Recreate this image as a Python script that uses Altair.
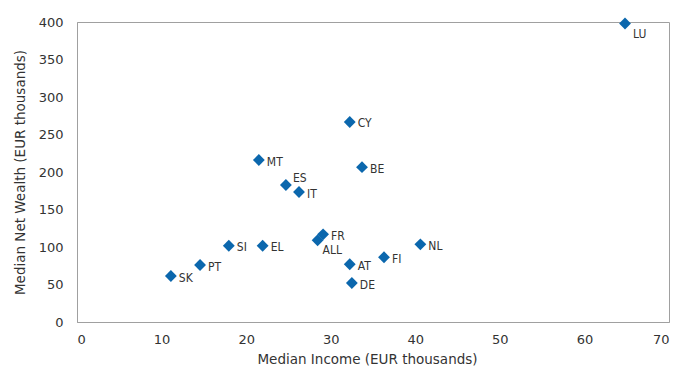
import altair as alt
import pandas as pd

countries = ["LU", "CY", "BE", "MT", "ES", "IT", "FR", "ALL", "SI", "EL",
             "PT", "SK", "NL", "FI", "AT", "DE"]
income = [64.8, 32.25, 33.7, 21.5, 24.7, 26.25, 29.1, 28.45, 17.95, 21.95,
          14.55, 11.1, 40.6, 36.3, 32.25, 32.5]
wealth = [398.0, 266.7, 206.5, 216.0, 182.7, 173.3, 116.9, 109.0, 101.7, 101.7,
          76.0, 61.3, 103.6, 86.3, 77.0, 52.0]

x_ticks = [0, 10, 20, 30, 40, 50, 60, 70]
y_ticks = [0, 50, 100, 150, 200, 250, 300, 350, 400]

df = pd.DataFrame({"country": countries, "income": income, "wealth": wealth})

BLUE = "#0b67ad"
GREY = "#a0a0a0"
TXT = "#333333"

x = alt.X("income:Q", scale=alt.Scale(domain=[0, 70], nice=False),
          axis=alt.Axis(title="Median Income (EUR thousands)", values=x_ticks,
                        grid=False, ticks=False, tickSize=0, labelPadding=11,
                        titlePadding=6, titleX=290))
y = alt.Y("wealth:Q", scale=alt.Scale(domain=[0, 400], nice=False),
          axis=alt.Axis(title="Median Net Wealth (EUR thousands)", values=y_ticks,
                        grid=False, ticks=False, tickSize=0, labelPadding=14,
                        titlePadding=11))

base = alt.Chart(df).encode(x=x, y=y)

points = base.mark_point(shape="diamond", filled=True, size=140, color=BLUE, opacity=1)

label_font = "DejaVu Sans Condensed"
special = ["LU", "ES", "ALL"]

labels_default = base.transform_filter(
    ~alt.FieldOneOfPredicate(field="country", oneOf=special)
).mark_text(align="left", baseline="middle", dx=8, dy=1.5, font=label_font,
            fontSize=12, color=TXT).encode(text="country:N")

labels_lu = base.transform_filter(alt.datum.country == "LU").mark_text(
    align="left", baseline="middle", dx=8, dy=10, font=label_font,
    fontSize=12, color=TXT).encode(text="country:N")
labels_es = base.transform_filter(alt.datum.country == "ES").mark_text(
    align="left", baseline="middle", dx=7, dy=-7, font=label_font,
    fontSize=12, color=TXT).encode(text="country:N")
labels_all = base.transform_filter(alt.datum.country == "ALL").mark_text(
    align="left", baseline="middle", dx=5, dy=10, font=label_font,
    fontSize=12, color=TXT).encode(text="country:N")

chart = alt.layer(points, labels_default, labels_lu, labels_es, labels_all).properties(
    width=592, height=300,
    padding={"left": 69, "top": 14, "right": 4, "bottom": 45},
    autosize=alt.AutoSizeParams(type="none"),
).configure(
    background="white"
).configure_view(
    stroke=GREY, strokeWidth=1
).configure_axis(
    domainColor=GREY, domainWidth=1,
    labelFont="DejaVu Sans", labelFontSize=13, labelColor=TXT,
    titleFont="DejaVu Sans", titleFontSize=13.5, titleColor=TXT,
    titleFontWeight="normal",
)

chart.save("out.html", embed_options={"renderer": "svg", "actions": False})
